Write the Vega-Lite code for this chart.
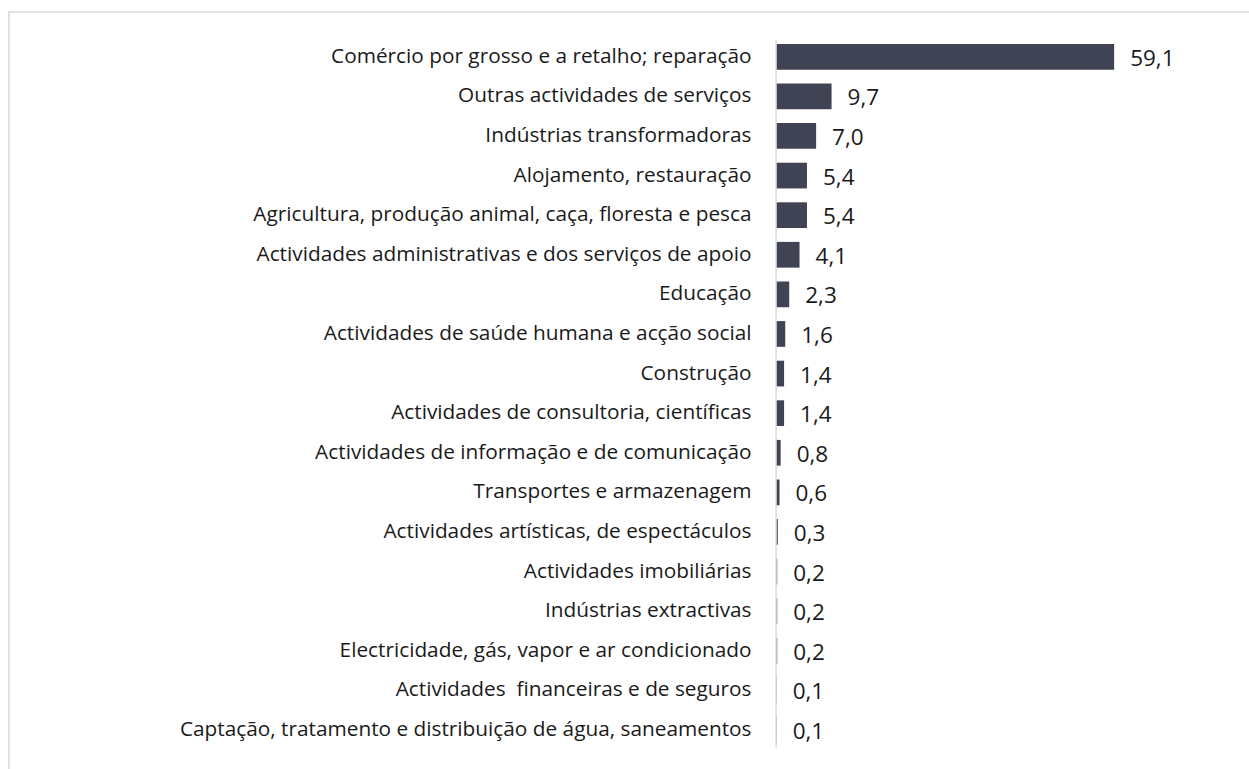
{
  "$schema": "https://vega.github.io/schema/vega-lite/v6.json",
  "autosize": {"type": "none"},
  "padding": {"left": 9, "top": 12, "right": 0, "bottom": 0},
  "width": 1251,
  "height": 770,
  "background": "white",
  "config": {
    "view": {"stroke": "#d9d9d9", "strokeWidth": 1.5},
    "font": "Open Sans",
    "locale": {"number": {"decimal": ",", "thousands": ".", "grouping": [3], "currency": ["", " €"]}}
  },
  "data": {
    "values": [
      {"sector": "Comércio por grosso e a retalho; reparação", "value": 59.1},
      {"sector": "Outras actividades de serviços", "value": 9.7},
      {"sector": "Indústrias transformadoras", "value": 7.0},
      {"sector": "Alojamento, restauração", "value": 5.4},
      {"sector": "Agricultura, produção animal, caça, floresta e pesca", "value": 5.4},
      {"sector": "Actividades administrativas e dos serviços de apoio", "value": 4.1},
      {"sector": "Educação", "value": 2.3},
      {"sector": "Actividades de saúde humana e acção social", "value": 1.6},
      {"sector": "Construção", "value": 1.4},
      {"sector": "Actividades de consultoria, científicas", "value": 1.4},
      {"sector": "Actividades de informação e de comunicação", "value": 0.8},
      {"sector": "Transportes e armazenagem", "value": 0.6},
      {"sector": "Actividades artísticas, de espectáculos", "value": 0.3},
      {"sector": "Actividades imobiliárias", "value": 0.2},
      {"sector": "Indústrias extractivas", "value": 0.2},
      {"sector": "Electricidade, gás, vapor e ar condicionado", "value": 0.2},
      {"sector": "Actividades \u00a0financeiras e de seguros", "value": 0.1},
      {"sector": "Captação, tratamento e distribuição de água, saneamentos", "value": 0.1}
    ]
  },
  "encoding": {
    "y": {
      "field": "sector",
      "type": "nominal",
      "sort": null,
      "scale": {"paddingInner": 0.35, "paddingOuter": 0.897, "align": 0.449},
      "axis": {
        "title": null,
        "domain": false,
        "ticks": false,
        "offset": -767,
        "labelPadding": 25,
        "labelFontSize": 20.8,
        "labelColor": "#1a1a1a",
        "labelLimit": 700,
        "labelFont": "Open Sans"
      }
    }
  },
  "layer": [
    {
      "mark": {"type": "bar", "color": "#404354"},
      "encoding": {
        "x": {"field": "value", "type": "quantitative", "scale": {"domain": [-134.1, 84.6], "zero": false, "nice": false}, "axis": null}
      }
    },
    {
      "mark": {"type": "text", "align": "left", "baseline": "middle", "dx": 16, "dy": 2, "fontSize": 22.5, "color": "#1a1a1a"},
      "encoding": {
        "x": {"field": "value", "type": "quantitative"},
        "text": {"field": "value", "type": "quantitative", "format": ".1f"}
      }
    },
    {
      "data": {"values": [{"x": 0, "top": "Comércio por grosso e a retalho; reparação", "bottom": "Captação, tratamento e distribuição de água, saneamentos"}]},
      "mark": {"type": "rule", "color": "#d9d9d9", "strokeWidth": 1.5},
      "encoding": {
        "x": {"field": "x", "type": "quantitative"},
        "y": {"field": "top", "type": "nominal", "bandPosition": -0.175},
        "y2": {"field": "bottom", "bandPosition": 1.175}
      }
    }
  ]
}
